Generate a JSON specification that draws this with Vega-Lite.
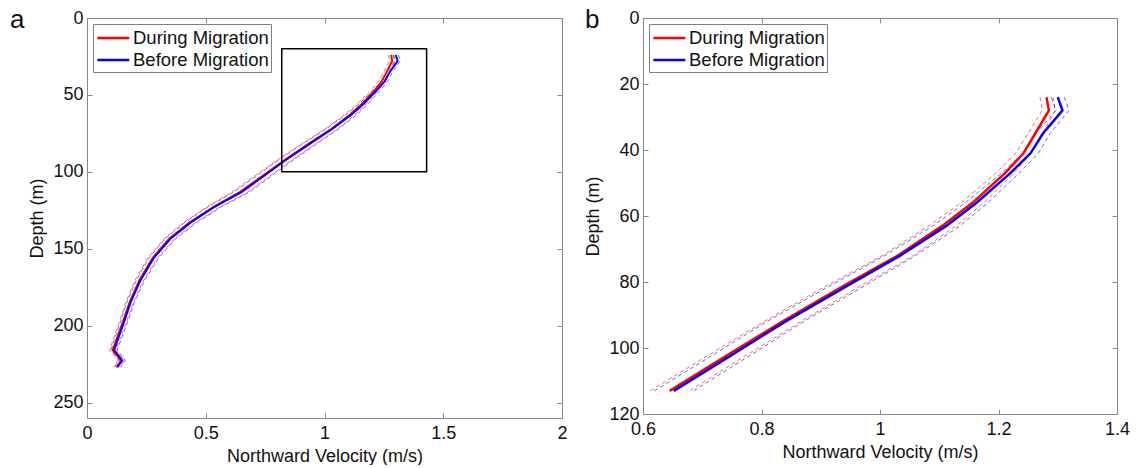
{
  "$schema": "https://vega.github.io/schema/vega-lite/v6.json",
  "padding": {"left": 10, "top": 7, "right": 5, "bottom": 0},
  "background": "white",
  "bounds": "flush",
  "spacing": 81,
  "resolve": {"scale": {"color":"independent","stroke":"independent"}, "legend": {"color":"independent","stroke":"independent"}},
  "datasets": {
    "prof": [
      {"s":"During Migration","d":24,"v":1.281,"lo":1.270,"hi":1.292},
      {"s":"During Migration","d":28,"v":1.285,"lo":1.274,"hi":1.296},
      {"s":"During Migration","d":35,"v":1.262,"lo":1.250,"hi":1.274},
      {"s":"During Migration","d":41,"v":1.242,"lo":1.229,"hi":1.255},
      {"s":"During Migration","d":47,"v":1.211,"lo":1.196,"hi":1.226},
      {"s":"During Migration","d":56,"v":1.156,"lo":1.137,"hi":1.175},
      {"s":"During Migration","d":63,"v":1.105,"lo":1.082,"hi":1.128},
      {"s":"During Migration","d":72,"v":1.030,"lo":1.004,"hi":1.056},
      {"s":"During Migration","d":81,"v":0.940,"lo":0.911,"hi":0.969},
      {"s":"During Migration","d":92,"v":0.835,"lo":0.804,"hi":0.866},
      {"s":"During Migration","d":103,"v":0.735,"lo":0.703,"hi":0.767},
      {"s":"During Migration","d":113,"v":0.645,"lo":0.612,"hi":0.678},
      {"s":"During Migration","d":123,"v":0.530,"lo":0.502,"hi":0.558},
      {"s":"During Migration","d":133,"v":0.431,"lo":0.406,"hi":0.456},
      {"s":"During Migration","d":143.5,"v":0.346,"lo":0.324,"hi":0.368},
      {"s":"During Migration","d":156,"v":0.276,"lo":0.256,"hi":0.296},
      {"s":"During Migration","d":170.6,"v":0.220,"lo":0.202,"hi":0.238},
      {"s":"During Migration","d":185,"v":0.179,"lo":0.163,"hi":0.195},
      {"s":"During Migration","d":198,"v":0.150,"lo":0.135,"hi":0.165},
      {"s":"During Migration","d":210,"v":0.122,"lo":0.108,"hi":0.136},
      {"s":"During Migration","d":216,"v":0.108,"lo":0.095,"hi":0.121},
      {"s":"During Migration","d":219.6,"v":0.128,"lo":0.115,"hi":0.141},
      {"s":"During Migration","d":222.7,"v":0.143,"lo":0.130,"hi":0.156},
      {"s":"During Migration","d":227,"v":0.124,"lo":0.111,"hi":0.137},
      {"s":"Before Migration","d":24,"v":1.300,"lo":1.289,"hi":1.311},
      {"s":"Before Migration","d":28,"v":1.308,"lo":1.297,"hi":1.319},
      {"s":"Before Migration","d":35,"v":1.275,"lo":1.263,"hi":1.287},
      {"s":"Before Migration","d":41,"v":1.254,"lo":1.241,"hi":1.267},
      {"s":"Before Migration","d":47,"v":1.220,"lo":1.205,"hi":1.235},
      {"s":"Before Migration","d":56,"v":1.163,"lo":1.144,"hi":1.182},
      {"s":"Before Migration","d":63,"v":1.112,"lo":1.089,"hi":1.135},
      {"s":"Before Migration","d":72,"v":1.034,"lo":1.008,"hi":1.060},
      {"s":"Before Migration","d":81,"v":0.946,"lo":0.917,"hi":0.975},
      {"s":"Before Migration","d":92,"v":0.840,"lo":0.809,"hi":0.871},
      {"s":"Before Migration","d":103,"v":0.742,"lo":0.710,"hi":0.774},
      {"s":"Before Migration","d":113,"v":0.652,"lo":0.619,"hi":0.685},
      {"s":"Before Migration","d":123,"v":0.535,"lo":0.507,"hi":0.563},
      {"s":"Before Migration","d":133,"v":0.436,"lo":0.411,"hi":0.461},
      {"s":"Before Migration","d":143.5,"v":0.351,"lo":0.329,"hi":0.373},
      {"s":"Before Migration","d":156,"v":0.281,"lo":0.261,"hi":0.301},
      {"s":"Before Migration","d":170.6,"v":0.225,"lo":0.207,"hi":0.243},
      {"s":"Before Migration","d":185,"v":0.183,"lo":0.167,"hi":0.199},
      {"s":"Before Migration","d":198,"v":0.155,"lo":0.140,"hi":0.170},
      {"s":"Before Migration","d":210,"v":0.127,"lo":0.113,"hi":0.141},
      {"s":"Before Migration","d":216,"v":0.114,"lo":0.101,"hi":0.127},
      {"s":"Before Migration","d":219.6,"v":0.134,"lo":0.121,"hi":0.147},
      {"s":"Before Migration","d":222.7,"v":0.148,"lo":0.135,"hi":0.161},
      {"s":"Before Migration","d":227,"v":0.128,"lo":0.115,"hi":0.141}
    ],
    "box": [{"x1":0.82,"x2":1.43,"d1":20,"d2":100}]
  },
  "hconcat": [
    {
      "width": 475,
      "height": 400,
      "title": {"text":"a","anchor":"start","frame":"group","dx":-77,"dy":45,"offset":0,"baseline":"alphabetic","fontSize":26,"fontWeight":"normal","color":"#111"},
      "data": {"name":"prof"},
      "layer": [
        {
          "mark": {"type":"line","strokeDash":[4,3],"strokeWidth":1,"opacity":0.6},
          "encoding": {
            "x": {"field":"lo","type":"quantitative","scale":{"domain":[0,2]},
                  "axis":{"orient":"bottom","values":[0,0.5,1,1.5,2],"format":"~g","title":"Northward Velocity (m/s)","labelPadding":11,"titlePadding":5}},
            "y": {"field":"d","type":"quantitative","scale":{"domain":[0,250],"reverse":true},
                  "axis":{"orient":"left","values":[0,50,100,150,200,250],"title":"Depth (m)","labelPadding":9,"titlePadding":6}},
            "stroke": {"field":"s","type":"nominal","scale":{"domain":["Before Migration","During Migration"],"range":["#0000ff","#ff0000"]},"legend":null},
            "order": {"field":"d","type":"quantitative"}
          }
        },
        {
          "mark": {"type":"line","strokeDash":[4,3],"strokeWidth":1,"opacity":0.6},
          "encoding": {
            "x": {"field":"hi","type":"quantitative","axis":{"orient":"top","values":[0,0.5,1,1.5,2],"labels":false,"title":null}},
            "y": {"field":"d","type":"quantitative","axis":{"orient":"right","values":[0,50,100,150,200,250],"labels":false,"title":null}},
            "stroke": {"field":"s","type":"nominal","legend":null},
            "order": {"field":"d","type":"quantitative"}
          }
        },
        {
          "mark": {"type":"line","strokeWidth":2},
          "encoding": {
            "x": {"field":"v","type":"quantitative","axis":null},
            "y": {"field":"d","type":"quantitative","axis":null},
            "color": {"field":"s","type":"nominal","scale":{"domain":["During Migration","Before Migration"],"range":["#ff0000","#0000ff"]},"legend":{"title":null,"orient":"top-left"}},
            "order": {"field":"d","type":"quantitative"}
          }
        },
        {
          "data": {"name":"box"},
          "mark": {"type":"rect","fillOpacity":0,"stroke":"black","strokeWidth":1.5},
          "encoding": {
            "x": {"field":"x1","type":"quantitative","axis":null},
            "x2": {"field":"x2"},
            "y": {"field":"d1","type":"quantitative","axis":null},
            "y2": {"field":"d2"}
          }
        }
      ],
      "resolve": {"axis": {"x":"independent","y":"independent"}}
    },
    {
      "width": 474,
      "height": 396,
      "title": {"text":"b","anchor":"start","frame":"group","dx":-58,"dy":45,"offset":0,"baseline":"alphabetic","fontSize":26,"fontWeight":"normal","color":"#111"},
      "data": {"name":"prof"},
      "transform": [{"filter":"datum.d <= 113"}],
      "layer": [
        {
          "mark": {"type":"line","strokeDash":[4,3],"strokeWidth":1,"opacity":0.6},
          "encoding": {
            "x": {"field":"lo","type":"quantitative","scale":{"domain":[0.6,1.4]},
                  "axis":{"orient":"bottom","values":[0.6,0.8,1,1.2,1.4],"format":"~g","title":"Northward Velocity (m/s)","labelPadding":11,"titlePadding":5}},
            "y": {"field":"d","type":"quantitative","scale":{"domain":[0,120],"reverse":true},
                  "axis":{"orient":"left","values":[0,20,40,60,80,100,120],"title":"Depth (m)","labelPadding":9,"titlePadding":6}},
            "stroke": {"field":"s","type":"nominal","scale":{"domain":["Before Migration","During Migration"],"range":["#0000ff","#ff0000"]},"legend":null},
            "order": {"field":"d","type":"quantitative"}
          }
        },
        {
          "mark": {"type":"line","strokeDash":[4,3],"strokeWidth":1,"opacity":0.6},
          "encoding": {
            "x": {"field":"hi","type":"quantitative","axis":{"orient":"top","values":[0.6,0.8,1,1.2,1.4],"labels":false,"title":null}},
            "y": {"field":"d","type":"quantitative","axis":{"orient":"right","values":[0,20,40,60,80,100,120],"labels":false,"title":null}},
            "stroke": {"field":"s","type":"nominal","legend":null},
            "order": {"field":"d","type":"quantitative"}
          }
        },
        {
          "mark": {"type":"line","strokeWidth":2.5},
          "encoding": {
            "x": {"field":"v","type":"quantitative","axis":null},
            "y": {"field":"d","type":"quantitative","axis":null},
            "color": {"field":"s","type":"nominal","scale":{"domain":["During Migration","Before Migration"],"range":["#ff0000","#0000ff"]},"legend":{"title":null,"orient":"top-left"}},
            "order": {"field":"d","type":"quantitative"}
          }
        }
      ],
      "resolve": {"axis": {"x":"independent","y":"independent"}}
    }
  ],
  "config": {
    "font": "Liberation Sans",
    "view": {"stroke": null},
    "axis": {"domainColor":"#888","tickColor":"#888","tickSize":-5,"labelFontSize":18,"labelColor":"#111","titleFontSize":18,"titleFontWeight":"normal","titleColor":"#111","grid":false,"labelFlush":false,"labelOverlap":false,"labelFont":"Liberation Sans","titleFont":"Liberation Sans"},
    "legend": {"offset":6,"padding":2,"strokeColor":"#808080","fillColor":"white","symbolType":"M-0.92,0L2.12,0","symbolSize":441,"symbolStrokeWidth":2.5,"labelFontSize":18.5,"labelFont":"Liberation Sans","labelOffset":14,"rowPadding":0,"labelColor":"#111","cornerRadius":0}
  }
}
